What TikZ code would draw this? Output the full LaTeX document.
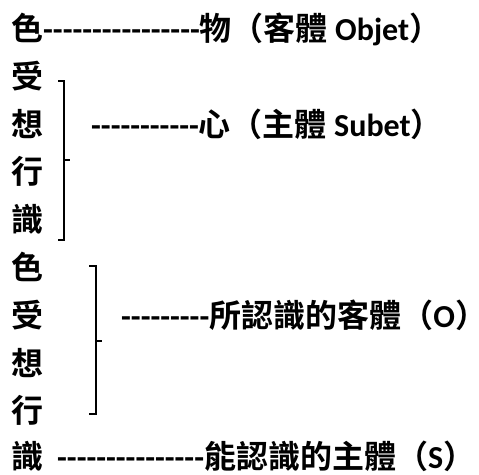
\documentclass[tikz,border=0pt]{standalone}
\usepackage{fontspec}
\setmainfont{Carlito}
\newfontfamily\cjk{Noto Sans CJK TC}[BoldFont={Noto Sans CJK TC Bold}]
\newcommand\zh[1]{{\cjk #1}}
\newcommand\dsh[1]{\foreach \i in {1,...,#1}{\hbox{-}}}
\newcommand\rpar{\makebox[20pt][l]{\zh{）}}}
\begin{document}
\begin{tikzpicture}[x=1pt,y=-1pt,
  txt/.style={anchor=base west, inner sep=0pt, font=\fontsize{32}{38}\selectfont\bfseries},
  brk/.style={line width=1.2pt, line cap=butt, line join=miter}]
\useasboundingbox (0,0) rectangle (479,474);
% left column
\node[txt] (l0) at (11,40) {\zh{色}\dsh{16}\zh{物（客體} Objet\rpar};
\node[txt] (c1) at (11,88) {\zh{受}};
\node[txt] (c2) at (11,136) {\zh{想}};
\node[txt] (c3) at (11,183) {\zh{行}};
\node[txt] (c4) at (11,231) {\zh{識}};
\node[txt] (c5) at (11,279) {\zh{色}};
\node[txt] (c6) at (11,327) {\zh{受}};
\node[txt] (c7) at (11,375) {\zh{想}};
\node[txt] (c8) at (11,422) {\zh{行}};
\node[txt] (c9) at (11,468) {\zh{識}};
% right texts
\node[txt] (r2) at (91,136) {\dsh{11}\zh{心（主體} Subet\rpar};
\node[txt] (r6) at (121,327) {\dsh{9}\zh{所認識的客體（}O\rpar};
\node[txt] (r9) at (57,468) {\dsh{15}\zh{能認識的主體（}S\rpar};
% brackets
\coordinate (b1t) at (58,81);  \coordinate (b1b) at (58,240); \coordinate (b1m) at (70,160);
\coordinate (b2t) at (89,266); \coordinate (b2b) at (89,414); \coordinate (b2m) at (102,341);
\draw[brk] (b1t) -- ++(6,0) |- (b1b);
\draw[brk] (64,160) -- (b1m);
\draw[brk] (b2t) -- ++(7,0) |- (b2b);
\draw[brk] (96,341) -- (b2m);
\end{tikzpicture}
\end{document}
